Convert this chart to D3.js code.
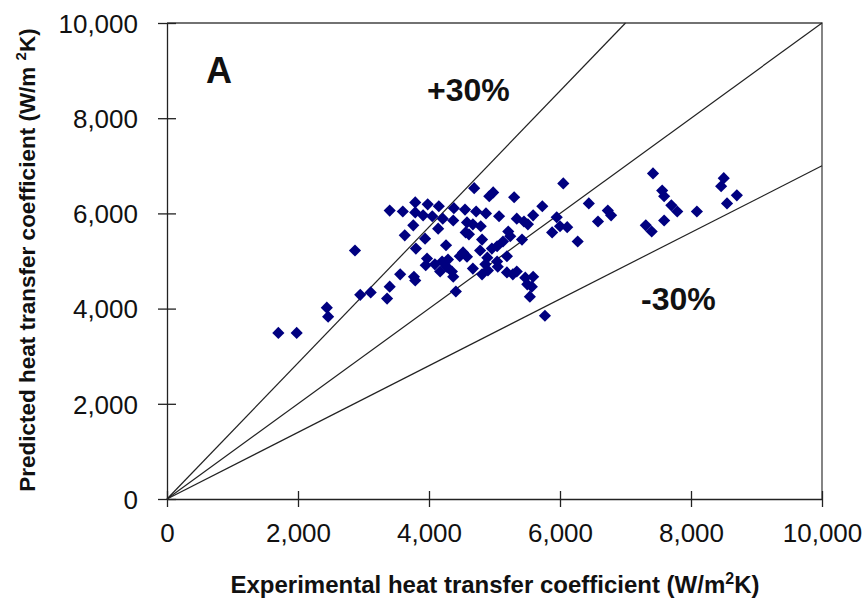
<!DOCTYPE html>
<html>
<head>
<meta charset="utf-8">
<script src="https://cdn.jsdelivr.net/npm/d3@7"></script>
<style>
  body { margin: 0; background: #fff; }
  svg text { font-family: Arial, "Liberation Sans", sans-serif; fill: #111; }
</style>
</head>
<body>
<svg width="864" height="607"></svg>
<script>
"use strict";

// experimental (x) vs predicted (y), W/m2K
const expX = [1700, 1980, 2440, 2460, 2870, 2950, 3110, 3360, 3400, 3560, 3770, 3790,
  3400, 3600, 3790, 3980, 4150, 3790, 3910, 4050, 4210, 4370, 4380, 4550,
  3760, 3630, 4140, 3940, 4580, 4560, 3800, 4260, 3970, 3950, 4090, 4200,
  4290, 4170, 4270, 4350, 4370, 4470, 4520, 4410,
  4690, 4920, 4980, 5300, 6050, 5730, 4720, 4870, 5070, 5590, 5340, 5450,
  5510, 4670, 4790, 4610, 5210, 5240, 4810, 5130, 5420, 5950, 6000, 5880,
  6110, 4580, 4780, 4960, 5040, 4890, 5190, 4860, 5040, 5050, 4670, 4810,
  4900, 5190, 5280, 5340, 5470, 5590, 5500, 5570, 5540, 5770,
  6440, 6730, 6780, 6580, 6270, 7420, 7560, 7590, 7700, 7790, 7590, 7310,
  7400, 8090, 8500, 8460, 8550, 8700];
const predY = [3490, 3490, 4020, 3830, 5220, 4290, 4340, 4210, 4460, 4720, 4670, 4590,
  6060, 6040, 6230, 6190, 6150, 6020, 5960, 5940, 5890, 5850, 6110, 6080,
  5750, 5540, 5680, 5470, 5810, 5600, 5260, 5330, 5050, 4910, 4930, 4990,
  5030, 4780, 4880, 4780, 4670, 5100, 5180, 4360,
  6530, 6360, 6440, 6340, 6630, 6150, 6040, 6000, 5940, 5960, 5890, 5830,
  5770, 5770, 5730, 5560, 5620, 5520, 5450, 5410, 5450, 5920, 5730, 5600,
  5710, 5090, 5220, 5260, 5310, 5070, 5100, 4930, 4990, 4880, 4840, 4720,
  4800, 4760, 4720, 4780, 4650, 4670, 4510, 4460, 4250, 3850,
  6210, 6060, 5960, 5830, 5410, 6840, 6480, 6360, 6170, 6040, 5850, 5750,
  5620, 6040, 6740, 6570, 6210, 6380];

const ticks = [0, 2000, 4000, 6000, 8000, 10000];
const bandFactors = [1 / 0.7, 1, 0.7];   // +30%, parity, -30%
const bandLabels = ["+30%", "-30%"];

const svg = d3.select("svg");
const x = d3.scaleLinear().domain([0, 10000]).range([167, 822]);
const y = d3.scaleLinear().domain([0, 10000]).range([499, 23]);
const fmt = d3.format(",");

// plot frame (top and right)
svg.append("path")
  .attr("d", `M${x(0)},${y(10000)}H${x(10000)}V${y(0)}`)
  .attr("fill", "none").attr("stroke", "#444").attr("stroke-width", 1.3);

// axes with ticks crossing the line
const xAxis = svg.append("g").attr("transform", `translate(0,${y(0)})`)
  .call(d3.axisBottom(x).tickValues(ticks).tickFormat(fmt).tickSize(8).tickSizeOuter(0));
xAxis.selectAll(".tick line").attr("y1", -8);
xAxis.selectAll("text").attr("dy", "1.22em").style("font-size", "26px");

const yAxis = svg.append("g").attr("transform", `translate(${x(0)},0)`)
  .call(d3.axisLeft(y).tickValues(ticks).tickFormat(fmt).tickSize(9).tickSizeOuter(0));
yAxis.selectAll(".tick line").attr("x1", 9);
yAxis.selectAll("text").attr("x", -29).attr("dy", "0.36em").style("font-size", "26px");

svg.selectAll(".domain").attr("stroke", "#222").attr("stroke-width", 1.3);
svg.selectAll(".tick line").attr("stroke", "#222").attr("stroke-width", 1.3);

// reference lines from origin to plot edge
bandFactors.forEach(k => {
  const endX = Math.min(10000, 10000 / k);
  svg.append("line")
    .attr("x1", x(0)).attr("y1", y(0))
    .attr("x2", x(endX)).attr("y2", y(endX * k))
    .attr("stroke", "#222").attr("stroke-width", 1.2);
});

// data points: navy diamonds
svg.append("g").selectAll("path")
  .data(expX.map((v, i) => [v, predY[i]]))
  .join("path")
  .attr("d", d3.symbol(d3.symbolSquare, 74))
  .attr("transform", d => `translate(${x(d[0])},${y(d[1])}) rotate(45)`)
  .attr("fill", "#000080");

// annotations
svg.append("text").attr("x", 206).attr("y", 83)
  .style("font-size", "36px").style("font-weight", "bold").text("A");
svg.append("text").attr("x", 427).attr("y", 101)
  .style("font-size", "32px").style("font-weight", "bold").text(bandLabels[0]);
svg.append("text").attr("x", 641).attr("y", 310)
  .style("font-size", "32px").style("font-weight", "bold").text(bandLabels[1]);

// axis titles
const xt = svg.append("text").attr("x", 495).attr("y", 593)
  .attr("text-anchor", "middle")
  .style("font-size", "24px").style("font-weight", "bold");
xt.append("tspan").text("Experimental heat transfer coefficient (W/m");
xt.append("tspan").attr("dy", -9).style("font-size", "16px").text("2");
xt.append("tspan").attr("dy", 9).text("K)");

const yt = svg.append("text")
  .attr("transform", "translate(35,260) rotate(-90)")
  .attr("text-anchor", "middle")
  .style("font-size", "22.5px").style("font-weight", "bold");
yt.append("tspan").text("Predicted heat transfer coefficient (W/m ");
yt.append("tspan").attr("dy", -9).style("font-size", "15px").text("2");
yt.append("tspan").attr("dy", 9).text("K)");
</script>
</body>
</html>
